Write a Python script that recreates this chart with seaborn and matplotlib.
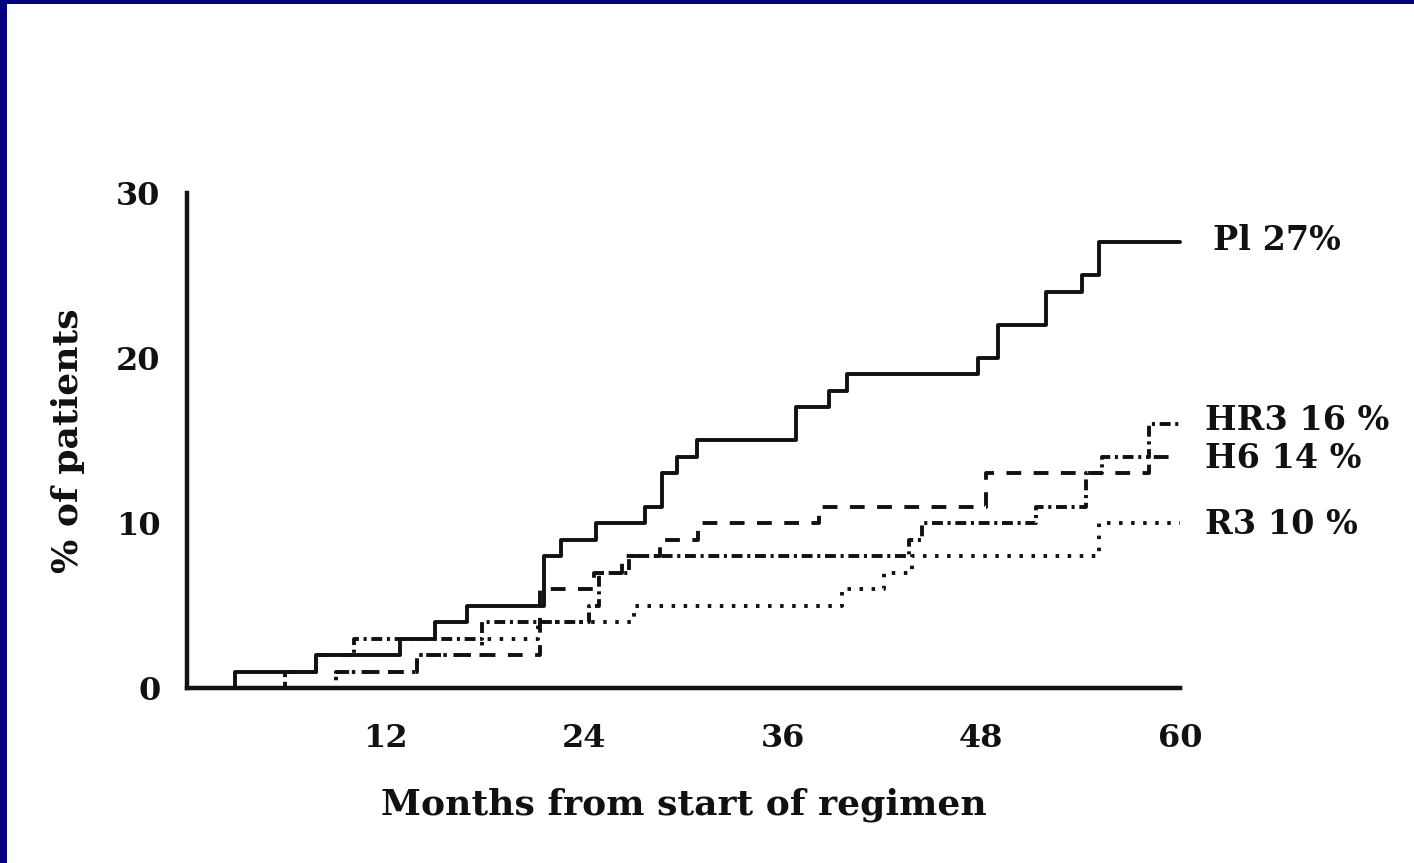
import matplotlib
matplotlib.use("Agg")
import matplotlib.pyplot as plt
import seaborn as sns
import pandas as pd
from matplotlib.patches import Rectangle

# ---- data ----
pl_t = [0, 2.9, 7.8, 12.9, 15.0, 16.9, 21.6, 22.6, 24.7, 27.7, 28.7, 29.6, 30.8,
        36.8, 38.8, 39.9, 47.8, 49.0, 51.9, 54.1, 55.1, 60]
pl_v = [0, 1, 2, 3, 4, 5, 8, 9, 10, 11, 13, 14, 15, 17, 18, 19, 20, 22, 24, 25, 27, 27]

hr3_t = [0, 5.9, 7.8, 10.1, 17.8, 24.3, 24.9, 26.7, 43.6, 44.4, 51.3, 54.3, 55.3, 58.1, 60]
hr3_v = [0, 1, 2, 3, 4, 5, 7, 8, 9, 10, 11, 13, 14, 16, 16]

h6_t = [0, 9.0, 13.9, 21.3, 24.6, 26.3, 28.6, 30.9, 38.2, 48.3, 58.1, 60]
h6_v = [0, 1, 2, 6, 7, 8, 9, 10, 11, 13, 14, 14]

r3_t = [0, 9.0, 13.9, 17.8, 21.2, 27.0, 39.6, 42.1, 43.8, 55.1, 60]
r3_v = [0, 1, 2, 3, 4, 5, 6, 7, 8, 10, 10]

labels = ["Pl 27%", "HR3 16 %", "H6 14 %", "R3 10 %"]
label_y = [27.1, 16.2, 13.9, 9.9]
label_x = [62.0, 61.5, 61.5, 61.5]

x_ticks = [12, 24, 36, 48, 60]
y_ticks = [0, 10, 20, 30]
x_label = "Months from start of regimen"
y_label = "% of patients"

# ---- plotting ----
sns.set_theme(style="white")
plt.rcParams["font.family"] = ["DejaVu Serif", "Liberation Serif"]
plt.rcParams["font.weight"] = "bold"

fig = plt.figure(figsize=(14.14, 8.63), dpi=100)
fig.patch.set_facecolor("white")
ax = fig.add_axes([187 / 1414, 1 - 688 / 863, (1180 - 187) / 1414, (688 - 193) / 863])
ax.set_facecolor("white")

lw = 2.8
ink = "#111111"
series = [
    (pl_t, pl_v, "-"),
    (hr3_t, hr3_v, (0, (2.8, 1.2, 0.8, 1.2))),
    (h6_t, h6_v, (0, (3.8, 3.2))),
    (r3_t, r3_v, (0, (0.9, 2.2))),
]
for t, v, ls in series:
    df = pd.DataFrame({"t": t, "v": v})
    sns.lineplot(data=df, x="t", y="v", ax=ax, estimator=None, sort=False,
                 drawstyle="steps-post", color=ink, linewidth=lw, linestyle=ls,
                 clip_on=False, zorder=2)

for txt, xx, yy in zip(labels, label_x, label_y):
    ax.text(xx, yy, txt, ha="left", va="center", fontsize=24, fontweight="bold",
            color=ink, clip_on=False)

ax.set_xlim(0, 60)
ax.set_ylim(0, 30)
ax.set_xticks(x_ticks)
ax.set_yticks(y_ticks)
ax.set_xlabel(x_label, fontsize=26, fontweight="bold", color=ink, labelpad=24)
ax.set_ylabel(y_label, fontsize=26, fontweight="bold", color=ink, labelpad=22)
ax.tick_params(axis="both", direction="out", length=9, width=2.6, colors=ink,
               labelsize=23, pad=10)
ax.tick_params(axis="x", pad=16)
for lab in ax.get_xticklabels() + ax.get_yticklabels():
    lab.set_fontweight("bold")
for s in ["top", "right"]:
    ax.spines[s].set_visible(False)
for s in ["left", "bottom"]:
    ax.spines[s].set_linewidth(3.2)
    ax.spines[s].set_color(ink)
    ax.spines[s].set_zorder(5)
ax.grid(False)

# navy frame (top and left edges)
navy = "#03007e"
fig.patches.append(Rectangle((0, 1 - 4 / 863), 1, 4 / 863, transform=fig.transFigure,
                             facecolor=navy, edgecolor="none", zorder=10))
fig.patches.append(Rectangle((0, 0), 7 / 1414, 1, transform=fig.transFigure,
                             facecolor=navy, edgecolor="none", zorder=10))

fig.savefig("out.png", dpi=100, facecolor="white")
